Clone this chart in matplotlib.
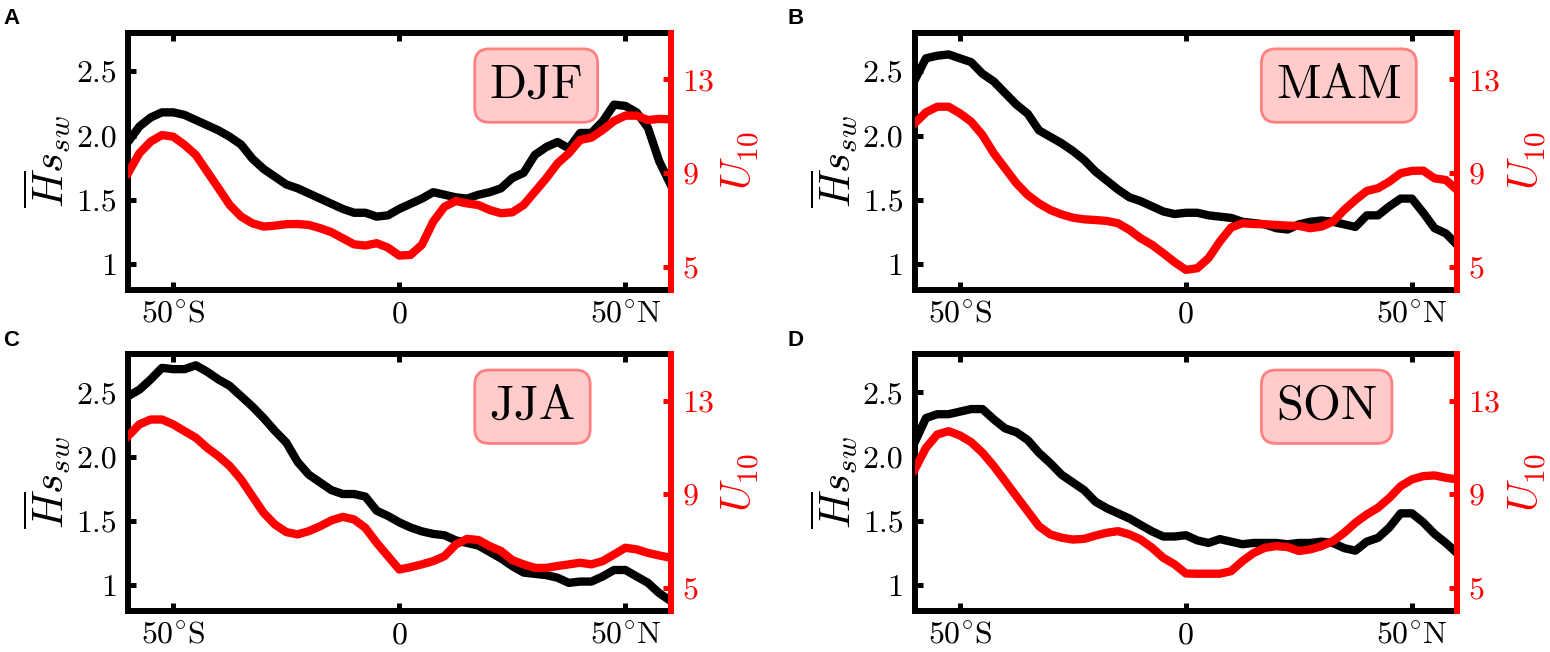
import matplotlib

matplotlib.use("Agg")
import matplotlib.pyplot as plt  # noqa: E402

plt.rcParams.update({
    "font.family": "serif",
    "font.serif": ["cmr10"],
    "mathtext.fontset": "cm",
    "axes.unicode_minus": False,
    "axes.formatter.use_mathtext": True,
})

# latitude grid (deg, negative = south)
LAT = [-60, -57.5, -55, -52.5, -50, -47.5, -45, -42.5, -40, -37.5, -35, -32.5,
       -30, -27.5, -25, -22.5, -20, -17.5, -15, -12.5, -10, -7.5, -5, -2.5,
       0, 2.5, 5, 7.5, 10, 12.5, 15, 17.5, 20, 22.5, 25, 27.5, 30, 32.5,
       35, 37.5, 40, 42.5, 45, 47.5, 50, 52.5, 55, 57.5, 60]

HS_DJF = [1.95, 2.07, 2.14, 2.18, 2.18, 2.16, 2.12, 2.08, 2.04, 1.99, 1.93, 1.82,
          1.74, 1.68, 1.62, 1.59, 1.55, 1.51, 1.47, 1.43, 1.40, 1.40, 1.37, 1.38,
          1.43, 1.47, 1.51, 1.56, 1.54, 1.52, 1.51, 1.54, 1.56, 1.59, 1.67, 1.71,
          1.85, 1.91, 1.95, 1.90, 2.02, 2.02, 2.11, 2.24, 2.23, 2.18, 2.06, 1.80, 1.62]
U10_DJF = [8.99, 9.84, 10.34, 10.62, 10.55, 10.2, 9.77, 9.06, 8.35, 7.63, 7.14, 6.85,
           6.71, 6.75, 6.81, 6.82, 6.78, 6.64, 6.47, 6.21, 5.95, 5.90, 6.00, 5.81,
           5.47, 5.50, 5.93, 6.92, 7.56, 7.80, 7.70, 7.63, 7.42, 7.28, 7.32, 7.63,
           8.20, 8.77, 9.41, 9.84, 10.41, 10.51, 10.84, 11.22, 11.45, 11.45, 11.26, 11.31, 11.29]

HS_MAM = [2.43, 2.60, 2.62, 2.63, 2.60, 2.57, 2.48, 2.42, 2.33, 2.24, 2.17, 2.04,
          1.99, 1.94, 1.88, 1.81, 1.72, 1.65, 1.58, 1.52, 1.49, 1.45, 1.41, 1.39,
          1.40, 1.40, 1.38, 1.37, 1.36, 1.33, 1.32, 1.31, 1.28, 1.27, 1.31, 1.33,
          1.34, 1.33, 1.31, 1.29, 1.38, 1.38, 1.45, 1.51, 1.51, 1.40, 1.28, 1.24, 1.15]
U10_MAM = [11.12, 11.59, 11.83, 11.83, 11.55, 11.19, 10.62, 9.84, 9.20, 8.56, 8.06, 7.70,
           7.42, 7.23, 7.09, 7.02, 6.99, 6.95, 6.85, 6.57, 6.21, 5.93, 5.57, 5.19,
           4.86, 4.93, 5.36, 6.07, 6.67, 6.85, 6.82, 6.81, 6.78, 6.75, 6.74, 6.64,
           6.71, 6.92, 7.42, 7.85, 8.23, 8.35, 8.63, 8.99, 9.09, 9.10, 8.77, 8.70, 8.27]

HS_JJA = [2.47, 2.52, 2.60, 2.69, 2.68, 2.68, 2.71, 2.66, 2.60, 2.55, 2.47, 2.39,
          2.30, 2.20, 2.11, 1.96, 1.86, 1.80, 1.74, 1.71, 1.71, 1.69, 1.58, 1.54,
          1.49, 1.45, 1.42, 1.40, 1.39, 1.35, 1.33, 1.31, 1.26, 1.21, 1.15, 1.10,
          1.09, 1.08, 1.06, 1.02, 1.03, 1.03, 1.07, 1.12, 1.12, 1.07, 1.02, 0.94, 0.88]
U10_JJA = [11.48, 11.98, 12.19, 12.19, 11.98, 11.69, 11.41, 10.98, 10.62, 10.20, 9.63, 8.91,
           8.20, 7.70, 7.38, 7.28, 7.42, 7.63, 7.88, 8.03, 7.92, 7.56, 6.92, 6.35,
           5.78, 5.88, 6.00, 6.14, 6.35, 6.85, 7.09, 7.04, 6.78, 6.57, 6.18, 6.00,
           5.85, 5.85, 5.93, 6.00, 6.07, 6.00, 6.14, 6.42, 6.71, 6.64, 6.49, 6.38, 6.28]

HS_SON = [2.11, 2.30, 2.33, 2.33, 2.35, 2.37, 2.37, 2.29, 2.22, 2.19, 2.13, 2.03,
          1.95, 1.86, 1.80, 1.74, 1.65, 1.60, 1.56, 1.52, 1.47, 1.42, 1.38, 1.38,
          1.39, 1.35, 1.33, 1.36, 1.34, 1.32, 1.33, 1.33, 1.33, 1.32, 1.33, 1.33,
          1.34, 1.33, 1.29, 1.27, 1.34, 1.37, 1.45, 1.56, 1.56, 1.49, 1.40, 1.33, 1.25]
U10_SON = [10.05, 10.98, 11.55, 11.69, 11.51, 11.22, 10.77, 10.20, 9.56, 8.91, 8.27, 7.63,
           7.28, 7.14, 7.06, 7.09, 7.23, 7.35, 7.42, 7.28, 7.06, 6.71, 6.28, 6.00,
           5.61, 5.60, 5.60, 5.60, 5.71, 6.14, 6.49, 6.71, 6.78, 6.74, 6.57, 6.64,
           6.78, 6.99, 7.35, 7.78, 8.13, 8.42, 8.84, 9.34, 9.63, 9.77, 9.80, 9.70, 9.63]

SEASONS = ["DJF", "MAM", "JJA", "SON"]
LETTERS = ["A", "B", "C", "D"]
HS = [HS_DJF, HS_MAM, HS_JJA, HS_SON]
U10 = [U10_DJF, U10_MAM, U10_JJA, U10_SON]

XTICKS = [-50, 0, 50]
XTICKLABELS = [r"50$^{\circ}$S", "0", r"50$^{\circ}$N"]
HTICKS = [1, 1.5, 2.0, 2.5]
HTICKLABELS = ["1", "1.5", "2.0", "2.5"]
UTICKS = [5, 9, 13]

RED = "#FF0000"
SPINE_W = 4.3
LINE_W = 6
TICK_FS = 23
LABEL_FS = 31

# axes boxes [left, bottom, width, height] in figure fraction
POS = [
    [0.0826, 0.5552, 0.3500, 0.3949],
    [0.5901, 0.5552, 0.3500, 0.3949],
    [0.0826, 0.0626, 0.3500, 0.3949],
    [0.5901, 0.0626, 0.3500, 0.3949],
]
LETTER_XY = [(0.002, 0.988), (0.508, 0.988), (0.002, 0.494), (0.508, 0.494)]

fig = plt.figure(figsize=(15.5, 6.52), dpi=100)

for i in range(4):
    ax = fig.add_axes(POS[i])
    ax.plot(LAT, HS[i], color="black", lw=LINE_W)
    ax.set_xlim(-60, 60)
    ax.set_ylim(0.8, 2.8)
    ax.set_xticks(XTICKS)
    ax.set_xticklabels(XTICKLABELS)
    ax.set_yticks(HTICKS)
    ax.set_yticklabels(HTICKLABELS)
    ax.tick_params(axis="both", direction="in", length=6, width=3.6,
                   labelsize=TICK_FS, pad=8, top=True, right=False)
    for s in ax.spines.values():
        s.set_linewidth(SPINE_W)
    ax.set_ylabel(r"$\overline{H}s_{sw}$", fontsize=LABEL_FS, labelpad=2)

    ax2 = ax.twinx()
    ax2.plot(LAT, U10[i], color=RED, lw=LINE_W)
    ax2.set_ylim(4, 15)
    ax2.set_yticks(UTICKS)
    ax2.tick_params(axis="y", direction="in", length=6, width=3.6, colors=RED,
                    labelsize=TICK_FS, pad=8)
    for name in ["left", "top", "bottom"]:
        ax2.spines[name].set_visible(False)
    ax2.spines["right"].set_color(RED)
    ax2.spines["right"].set_linewidth(SPINE_W)
    ax2.set_ylabel(r"$U_{10}$", fontsize=30, color=RED, labelpad=4)

    ax.text(0.666, 0.794, SEASONS[i], transform=ax.transAxes, fontsize=35,
            ha="left", va="center", zorder=5,
            bbox=dict(boxstyle="round,pad=0.3", facecolor="#FFCBCB",
                      edgecolor="#FF8080", linewidth=2))

    fig.text(LETTER_XY[i][0], LETTER_XY[i][1], LETTERS[i], fontsize=16,
             fontweight="bold", family="Liberation Sans", ha="left", va="top")

fig.savefig("out.png", dpi=100)
